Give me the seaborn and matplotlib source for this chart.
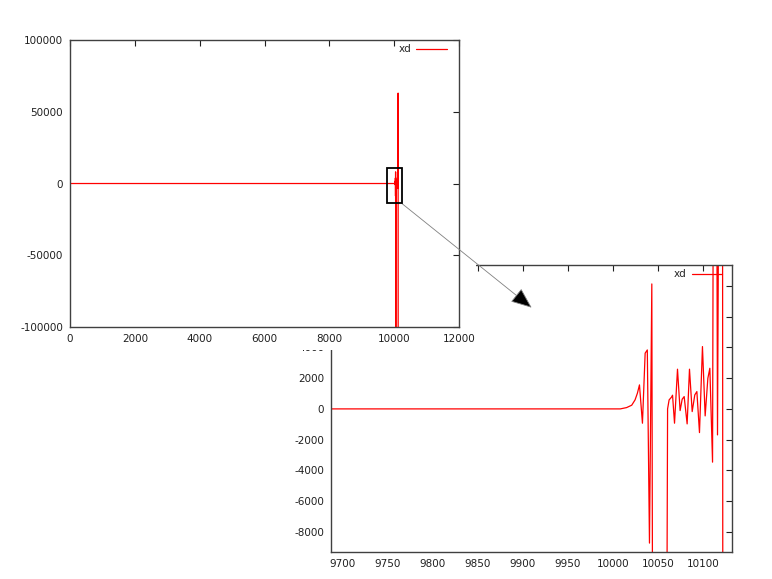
import numpy as np
import pandas as pd
import matplotlib
matplotlib.use("Agg")
import matplotlib.pyplot as plt
from matplotlib.patches import Rectangle
import seaborn as sns

# values
x_vals = [0, 2000, 4000, 6000, 8000, 9990, 10008, 10015, 10020.7, 10024.4, 10027,
          10029.3, 10032.6, 10035.6, 10038, 10040.4, 10043, 10050, 10060.5, 10062.2,
          10064.8, 10066, 10068.2, 10071.5, 10074.4, 10076.7, 10078.9, 10082.2,
          10084.8, 10087.8, 10090.7, 10093, 10095.9, 10099.2, 10102.2, 10105.2,
          10107.4, 10110.4, 10113, 10115.9, 10121, 10123.7]
y_vals = [0, 0, 0, 0, 0, 0, 0, 85, 240, 585, 1020,
          1560, -930, 3620, 3830, -8720, 8120, -180000, 0, 585,
          760, 890, -930, 2580, -110, 630, 800, -975,
          2580, -175, 910, 1125, -1540, 4050, -455, 1990,
          2640, -3460, 56300, -1690, 63000, -200000]

main_xticks = [0, 2000, 4000, 6000, 8000, 10000, 12000]
main_yticks = [-100000, -50000, 0, 50000, 100000]
zoom_xticks = [9700, 9750, 9800, 9850, 9900, 9950, 10000, 10050, 10100]
zoom_yticks = [-8000, -6000, -4000, -2000, 0, 2000, 4000, 6000, 8000]

df = pd.DataFrame({"x": x_vals, "y": y_vals})

sns.set_theme(style="white")
plt.rcParams["font.family"] = ["DejaVu Sans"]
plt.rcParams["axes.unicode_minus"] = False
plt.rcParams["xtick.direction"] = "in"
plt.rcParams["ytick.direction"] = "in"

fs = 7.5
fig = plt.figure(figsize=(7.72, 5.79), dpi=100)

ax = fig.add_axes([0.0907, 0.4352, 0.5039, 0.4957], zorder=3)
ax2 = fig.add_axes([0.4288, 0.0466, 0.5194, 0.4957], zorder=1)

# white block hiding the inset's top-left corner
fig.add_artist(Rectangle((0, 0.3955), 0.6166, 0.6045, transform=fig.transFigure,
                         facecolor="white", edgecolor="none", zorder=2))

for a, lx in ((ax, 0.979), (ax2, 0.985)):
    sns.lineplot(data=df, x="x", y="y", ax=a, color="#ff0000", lw=0.9,
                 sort=False, estimator=None, label="xd")
    a.set_xlabel("")
    a.set_ylabel("")
    for s in a.spines.values():
        s.set_color("#404040")
        s.set_linewidth(1.0)
    a.tick_params(axis="both", which="both", direction="in", length=4, width=0.8,
                  color="#202020", labelsize=fs, labelcolor="#202020",
                  top=True, right=True, pad=5)
    a.legend(loc="upper right", bbox_to_anchor=(lx, 1.0), frameon=False,
             markerfirst=False, fontsize=fs, handlelength=2.9,
             handletextpad=0.5, borderaxespad=0)

ax.set_xlim(0, 12000)
ax.set_ylim(-100000, 100000)
ax.set_xticks(main_xticks)
ax.set_yticks(main_yticks)

ax2.set_xlim(9687, 10132)
ax2.set_ylim(-9300, 9350)
ax2.set_xticks(zoom_xticks)
ax2.set_yticks(zoom_yticks)

# zoom box and pointer
ax.add_patch(Rectangle((9790, -13800), 440, 24800, fill=False, edgecolor="black",
                       lw=1.3, zorder=5))
ax.annotate("", xy=(0.6887, 0.4686), xycoords="figure fraction",
            xytext=(10230, -13800), textcoords="data", annotation_clip=False,
            arrowprops=dict(arrowstyle="-|>,head_length=1.1,head_width=0.45",
                            fc="black", ec="#808080", lw=0.6, shrinkA=0, shrinkB=0))

plt.savefig("out.png", dpi=100)
